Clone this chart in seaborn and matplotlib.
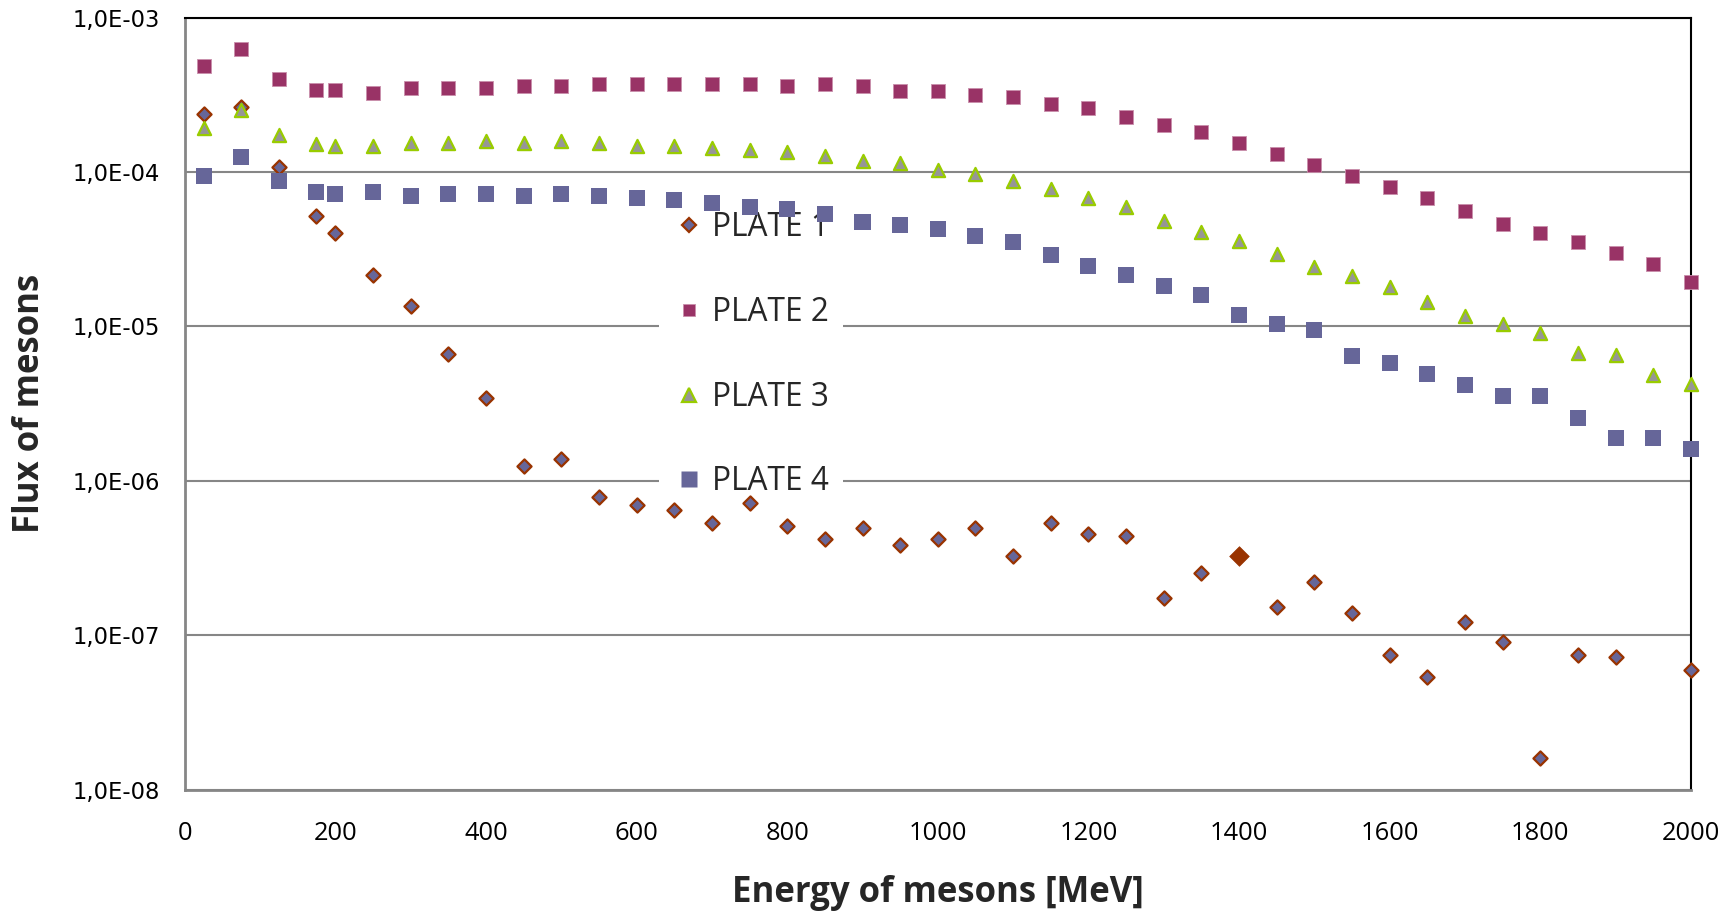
import numpy as np
import pandas as pd
import matplotlib
matplotlib.use("Agg")
import matplotlib.pyplot as plt
from matplotlib.lines import Line2D
from matplotlib.ticker import FixedLocator, FuncFormatter, NullLocator
import seaborn as sns

# ---- data -------------------------------------------------------------
energy = [25, 75, 125, 175, 200, 250, 300, 350, 400, 450, 500, 550, 600, 650,
          700, 750, 800, 850, 900, 950, 1000, 1050, 1100, 1150, 1200, 1250,
          1300, 1350, 1400, 1450, 1500, 1550, 1600, 1650, 1700, 1750, 1800,
          1850, 1900, 1950, 2000]

plate1 = [2.37e-4, 2.62e-4, 1.08e-4, 5.21e-5, 4.01e-5, 2.14e-5, 1.36e-5,
          6.62e-6, 3.43e-6, 1.25e-6, 1.38e-6, 7.88e-7, 6.93e-7, 6.47e-7,
          5.31e-7, 7.14e-7, 5.12e-7, 4.22e-7, 4.97e-7, 3.82e-7, 4.22e-7,
          4.97e-7, 3.24e-7, 5.31e-7, 4.52e-7, 4.36e-7, 1.75e-7, 2.52e-7,
          3.26e-7, 1.53e-7, 2.20e-7, 1.39e-7, 7.45e-8, 5.38e-8, 1.22e-7,
          9.08e-8, 1.60e-8, 7.45e-8, 7.23e-8, np.nan, 5.93e-8]

plate2 = [4.86e-4, 6.30e-4, 3.98e-4, 3.38e-4, 3.38e-4, 3.27e-4, 3.48e-4,
          3.48e-4, 3.48e-4, 3.60e-4, 3.60e-4, 3.73e-4, 3.73e-4, 3.73e-4,
          3.72e-4, 3.72e-4, 3.60e-4, 3.72e-4, 3.60e-4, 3.37e-4, 3.37e-4,
          3.17e-4, 3.06e-4, 2.77e-4, 2.60e-4, 2.27e-4, 2.00e-4, 1.82e-4,
          1.54e-4, 1.31e-4, 1.11e-4, 9.40e-5, 8.00e-5, 6.80e-5, 5.57e-5,
          4.58e-5, 4.02e-5, 3.52e-5, 2.99e-5, 2.54e-5, 1.95e-5]

plate3 = [1.92e-4, 2.52e-4, 1.74e-4, 1.52e-4, 1.48e-4, 1.48e-4, 1.53e-4,
          1.53e-4, 1.58e-4, 1.53e-4, 1.58e-4, 1.53e-4, 1.48e-4, 1.48e-4,
          1.44e-4, 1.39e-4, 1.34e-4, 1.26e-4, 1.18e-4, 1.14e-4, 1.03e-4,
          9.66e-5, 8.74e-5, 7.73e-5, 6.75e-5, 5.90e-5, 4.84e-5, 4.08e-5,
          3.59e-5, 2.94e-5, 2.41e-5, 2.12e-5, 1.79e-5, 1.43e-5, 1.17e-5,
          1.03e-5, 9.02e-6, 6.70e-6, 6.50e-6, 4.84e-6, 4.23e-6]

plate4 = [9.42e-5, 1.25e-4, 8.79e-5, 7.41e-5, 7.20e-5, 7.41e-5, 7.00e-5,
          7.20e-5, 7.20e-5, 7.00e-5, 7.20e-5, 7.00e-5, 6.79e-5, 6.59e-5,
          6.30e-5, 5.93e-5, 5.75e-5, 5.34e-5, 4.74e-5, 4.54e-5, 4.28e-5,
          3.85e-5, 3.52e-5, 2.90e-5, 2.46e-5, 2.15e-5, 1.83e-5, 1.60e-5,
          1.19e-5, 1.04e-5, 9.49e-6, 6.43e-6, 5.79e-6, 4.92e-6, 4.17e-6,
          3.54e-6, 3.54e-6, 2.55e-6, 1.89e-6, 1.89e-6, 1.61e-6]

series_names = ["PLATE 1", "PLATE 2", "PLATE 3", "PLATE 4"]
highlight_energy = 1400
x_ticks = [0, 200, 400, 600, 800, 1000, 1200, 1400, 1600, 1800, 2000]
y_ticks = [1e-8, 1e-7, 1e-6, 1e-5, 1e-4, 1e-3]

# ---- styling ------------------------------------------------------------
sns.set_style("white")
plt.rcParams["font.family"] = ["Open Sans", "DejaVu Sans"]

styles = {
    "PLATE 1": dict(marker="D", s=52, color="#666699", edgecolor="#993300", linewidth=1.6),
    "PLATE 2": dict(marker="s", s=92, color="#993366", edgecolor="#c98fab", linewidth=0.6),
    "PLATE 3": dict(marker="^", s=90, color="#969696", edgecolor="#99CC00", linewidth=1.6),
    "PLATE 4": dict(marker="s", s=133, color="#666699", edgecolor="none", linewidth=0),
}

frame = pd.DataFrame({"energy": energy, "PLATE 1": plate1, "PLATE 2": plate2,
                      "PLATE 3": plate3, "PLATE 4": plate4})

fig = plt.figure(figsize=(17.24, 9.16), dpi=100)
ax = fig.add_axes([0.10713, 0.1381, 0.8737, 0.8427])

for i, name in enumerate(series_names):
    st = styles[name]
    sns.scatterplot(data=frame, x="energy", y=name, ax=ax, marker=st["marker"],
                    s=st["s"], color=st["color"], edgecolor=st["edgecolor"],
                    linewidth=st["linewidth"], zorder=3 + i, clip_on=False,
                    legend=False)

# emphasised PLATE 1 point
hl = frame[frame["energy"] == highlight_energy]
sns.scatterplot(data=hl, x="energy", y="PLATE 1", ax=ax, marker="D", s=100,
                color="#993300", edgecolor="#993300", linewidth=0.5,
                zorder=3.5, clip_on=False, legend=False)

ax.set_yscale("log")
ax.set_xlim(0, 2000)
ax.set_ylim(1e-8, 1e-3)
ax.xaxis.set_major_locator(FixedLocator(x_ticks))
ax.yaxis.set_major_locator(FixedLocator(y_ticks))
ax.yaxis.set_minor_locator(NullLocator())
ax.xaxis.set_minor_locator(NullLocator())


def sci_comma(v, pos):
    exp = int(round(np.log10(v)))
    return "1,0E-%02d" % (-exp) if exp < 0 else "1,0E+%02d" % exp


ax.yaxis.set_major_formatter(FuncFormatter(sci_comma))

ax.yaxis.grid(True, color="#868686", linewidth=1.5, zorder=0.5)
ax.xaxis.grid(False)
ax.set_axisbelow(True)

for side in ("left", "bottom"):
    ax.spines[side].set_color("#868686")
    ax.spines[side].set_linewidth(2.0)
for side in ("top", "right"):
    ax.spines[side].set_color("#000000")
    ax.spines[side].set_linewidth(1.5)
    ax.spines[side].set_zorder(2.5)

ax.tick_params(axis="both", which="major", direction="out", length=6.5,
               width=1.5, color="#868686")
ax.tick_params(axis="x", pad=16, labelsize=18.4, labelcolor="black")
ax.tick_params(axis="y", pad=11, labelcolor="black")
for lbl in ax.get_yticklabels():
    lbl.set_fontfamily("DejaVu Sans")
    lbl.set_fontsize(16.3)

ax.set_xlabel("Energy of mesons [MeV]", fontsize=25, fontweight="bold",
              va="baseline")
ax.xaxis.set_label_coords(0.5, -0.1454)
ax.set_ylabel("Flux of mesons", fontsize=25, fontweight="bold", va="center")
ax.yaxis.set_label_coords(-0.1027, 0.5)

handles = [
    Line2D([], [], ls="none", marker="D", markersize=7.0, markerfacecolor="#666699",
           markeredgecolor="#993300", markeredgewidth=1.6),
    Line2D([], [], ls="none", marker="s", markersize=9.0, markerfacecolor="#993366",
           markeredgecolor="#c98fab", markeredgewidth=0.6),
    Line2D([], [], ls="none", marker="^", markersize=9.5, markerfacecolor="#969696",
           markeredgecolor="#99CC00", markeredgewidth=1.6),
    Line2D([], [], ls="none", marker="s", markersize=11.5, markerfacecolor="#666699",
           markeredgecolor="none"),
]
leg = ax.legend(handles, series_names, loc="center", bbox_to_anchor=(0.376, 0.563),
                frameon=True, facecolor="white", edgecolor="none", framealpha=1.0,
                fancybox=False, fontsize=22.8, handlelength=1.0, handletextpad=0.2,
                borderpad=0.45, labelspacing=1.63, borderaxespad=0)
leg.set_zorder(2)

fig.savefig("out.png", dpi=100, facecolor="white")
